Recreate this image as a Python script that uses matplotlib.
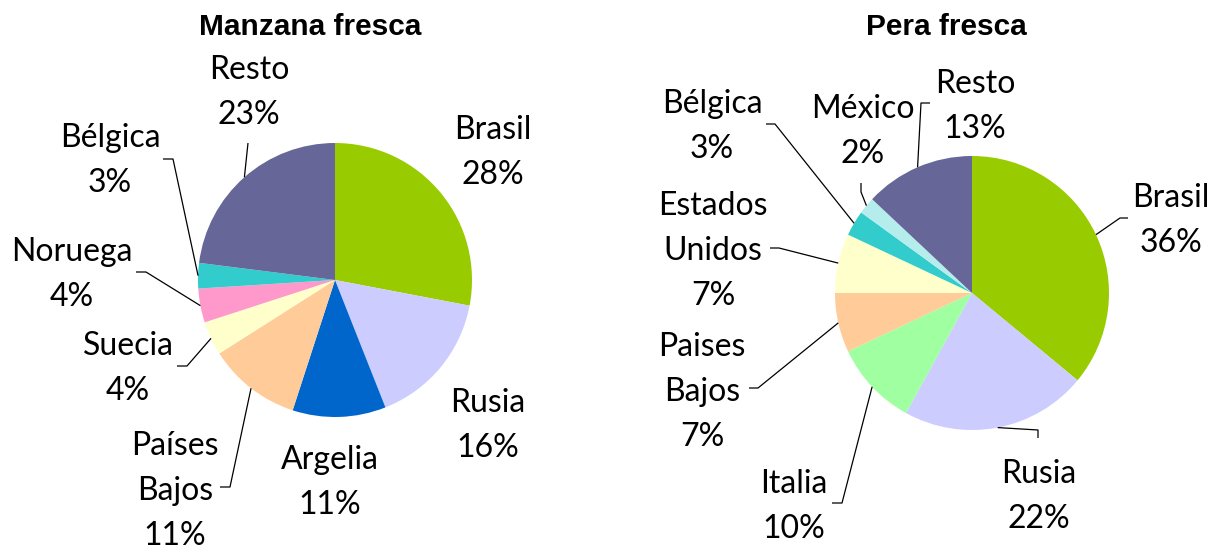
import numpy as np
import matplotlib
matplotlib.use("Agg")
import matplotlib.pyplot as plt

W, H = 1211, 550

# Manzana fresca
apple_names = ["Brasil", "Rusia", "Argelia", "Países\nBajos", "Suecia", "Noruega", "Bélgica", "Resto"]
apple_values = [28, 16, 11, 11, 4, 4, 3, 23]
apple_colors = ["#99CC00", "#CCCCFF", "#0066CC", "#FFCC99", "#FFFFCC", "#FF99CC", "#33CCCC", "#666699"]

# Pera fresca
pear_names = ["Brasil", "Rusia", "Italia", "Paises\nBajos", "Estados\nUnidos", "Bélgica", "México", "Resto"]
pear_values = [36, 22, 10, 7, 7, 3, 2, 13]
pear_colors = ["#99CC00", "#CCCCFF", "#A0FFA0", "#FFCC99", "#FFFFCC", "#33CCCC", "#B5ECEC", "#666699"]

LABEL_FONT = "Lato"
LABEL_SIZE = 23
LINE_STEP = 45

# layout, in pixels from the top-left corner: label position (x center, first baseline)
# and the leader path from the label side towards the slice (None = no leader)
apple_layout = [
    ((493, 139), None),
    ((488, 412), None),
    ((330, 469), None),
    ((175, 455), [(220, 487), (230, 487)]),
    ((128, 355), [(177, 366), (187, 366)]),
    ((72, 261), [(136, 272), (146, 272)]),
    ((110, 147), [(163, 159), (173, 159)]),
    ((249, 79), [(248, 143)]),
]
pear_layout = [
    ((1171, 207), [(1128, 218), (1120, 218)]),
    ((1039, 483), [(1038, 438), (1038, 430)]),
    ((794, 493), [(832, 503), (842, 503)]),
    ((702, 356), [(749, 388), (758, 388)]),
    ((713, 215), [(770, 248), (779, 248)]),
    ((712, 113), [(766, 124), (775, 124)]),
    ((863, 118), [(861, 183), (861, 192)]),
    ((975, 93), [(930, 103), (921, 103)]),
]


def Y(p):
    return H - p


def draw_pie(ax, title, title_x, center, radius, names, values, colors, layout):
    cx, cy = center[0], Y(center[1])
    wedges, _ = ax.pie(values, colors=colors, startangle=90, counterclock=False,
                       center=(cx, cy), radius=radius,
                       wedgeprops=dict(linewidth=0))
    total = sum(values)
    for w, name, v, ((lx, ly), path) in zip(wedges, names, values, layout):
        text = name + "\n" + f"{round(100 * v / total)}%"
        for i, line in enumerate(text.split("\n")):
            ax.text(lx, Y(ly + i * LINE_STEP), line, ha="center", va="baseline",
                    fontsize=LABEL_SIZE, family=LABEL_FONT, color="black")
        if path:
            mid = np.deg2rad((w.theta1 + w.theta2) / 2)
            ex = cx + radius * np.cos(mid)
            ey = cy + radius * np.sin(mid)
            xs = [p[0] for p in path] + [ex]
            ys = [Y(p[1]) for p in path] + [ey]
            ax.plot(xs, ys, color="black", lw=0.9, solid_capstyle="butt")
    ax.text(title_x, Y(27), title, ha="center", va="center", fontsize=21.5,
            fontweight="bold", family="Liberation Sans")


fig = plt.figure(figsize=(W / 100, H / 100), dpi=100)
ax = fig.add_axes([0, 0, 1, 1])

draw_pie(ax, "Manzana fresca", 310, (335, 280), 137,
         apple_names, apple_values, apple_colors, apple_layout)
draw_pie(ax, "Pera fresca", 946, (972, 293), 137,
         pear_names, pear_values, pear_colors, pear_layout)

ax.set_xlim(0, W)
ax.set_ylim(0, H)
ax.set_aspect("auto")
ax.axis("off")

fig.savefig("out.png", dpi=100, facecolor="white")
